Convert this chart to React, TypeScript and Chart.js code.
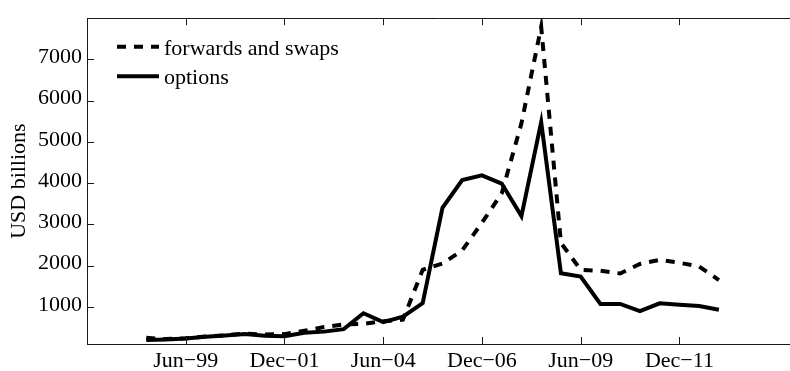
import React, { useEffect, useRef } from 'react';
import { Chart, registerables } from 'chart.js';

Chart.register(...registerables);

const periods = ['Jun-98', 'Dec-98', 'Jun-99', 'Dec-99', 'Jun-00', 'Dec-00', 'Jun-01', 'Dec-01', 'Jun-02', 'Dec-02',
  'Jun-03', 'Dec-03', 'Jun-04', 'Dec-04', 'Jun-05', 'Dec-05', 'Jun-06', 'Dec-06', 'Jun-07', 'Dec-07',
  'Jun-08', 'Dec-08', 'Jun-09', 'Dec-09', 'Jun-10', 'Dec-10', 'Jun-11', 'Dec-11', 'Jun-12', 'Dec-12'];
const forwardsAndSwaps = [250, 220, 240, 280, 310, 350, 330, 340, 420, 510, 575, 590, 650, 690, 1900, 2050, 2370, 3040, 3750, 5450,
  7790, 2550, 1900, 1875, 1810, 2040, 2140, 2070, 1980, 1650];
const optionsValues = [195, 212, 236, 274, 308, 340, 300, 290, 375, 400, 460, 845, 630, 765, 1090, 3400, 4075, 4190, 3990, 3200,
  5480, 1815, 1735, 1071, 1071, 895, 1086, 1050, 1022, 930];
const xTickPeriods = ['Jun-99', 'Dec-01', 'Jun-04', 'Dec-06', 'Jun-09', 'Dec-11'];
const xTickLabels = ['Jun\u221299', 'Dec\u221201', 'Jun\u221204', 'Dec\u221206', 'Jun\u221209', 'Dec\u221211'];
const yTickValues = [1000, 2000, 3000, 4000, 5000, 6000, 7000];
const seriesLabels = ['forwards and swaps', 'options'];

const FONT = '"Liberation Serif", "Times New Roman", serif';
const AXIS = '#1a1a1a';

const framePlugin = {
  id: 'matlabFrame',
  afterDraw(chart: any) {
    const { ctx, chartArea, scales } = chart;
    const { left, right, top, bottom } = chartArea;
    const xs = scales.x;
    const ys = scales.y;
    ctx.save();
    ctx.strokeStyle = AXIS;
    ctx.lineWidth = 1;
    ctx.setLineDash([]);
    ctx.beginPath();
    ctx.moveTo(left, Math.round(top) + 0.5);
    ctx.lineTo(right, Math.round(top) + 0.5);
    const tl = 7;
    xTickPeriods.forEach((p) => {
      const px = Math.round(xs.getPixelForValue(periods.indexOf(p))) + 0.5;
      ctx.moveTo(px, bottom);
      ctx.lineTo(px, bottom - tl);
      ctx.moveTo(px, top);
      ctx.lineTo(px, top + tl);
    });
    yTickValues.forEach((v) => {
      const py = Math.round(ys.getPixelForValue(v)) + 0.5;
      ctx.moveTo(left, py);
      ctx.lineTo(left + tl, py);
    });
    ctx.stroke();

    // legend (inside plot, no box)
    const rows = [46.7, 76.2];
    const baselines = [55, 83.5];
    chart.data.datasets.forEach((ds: any, i: number) => {
      ctx.beginPath();
      ctx.strokeStyle = ds.borderColor;
      ctx.lineWidth = ds.borderWidth;
      ctx.lineCap = 'butt';
      ctx.setLineDash(ds.borderDash || []);
      ctx.moveTo(117, rows[i]);
      ctx.lineTo(159, rows[i]);
      ctx.stroke();
      ctx.setLineDash([]);
      ctx.fillStyle = '#000';
      ctx.font = `22px ${FONT}`;
      ctx.textAlign = 'left';
      ctx.textBaseline = 'alphabetic';
      ctx.fillText(ds.label, 164, baselines[i]);
    });
    ctx.restore();
  },
};

export default function App() {
  const canvasRef = useRef<HTMLCanvasElement | null>(null);

  useEffect(() => {
    document.body.style.margin = '0';
    const canvas = canvasRef.current;
    if (!canvas) return;
    const toPoints = (arr: number[]) => arr.map((v, i) => ({ x: i, y: v }));
    const chart = new Chart(canvas, {
      type: 'line',
      data: {
        datasets: [
          {
            label: seriesLabels[0],
            data: toPoints(forwardsAndSwaps),
            borderColor: '#000',
            borderWidth: 4,
            borderDash: [9, 8],
            borderCapStyle: 'butt',
            borderJoinStyle: 'miter',
            pointRadius: 0,
            tension: 0,
            fill: false,
          },
          {
            label: seriesLabels[1],
            data: toPoints(optionsValues),
            borderColor: '#000',
            borderWidth: 4,
            borderCapStyle: 'butt',
            borderJoinStyle: 'miter',
            pointRadius: 0,
            tension: 0,
            fill: false,
          },
        ],
      },
      options: {
        responsive: false,
        animation: false,
        devicePixelRatio: 1,
        layout: { padding: { left: 0, right: 0, top: 13, bottom: 0 } },
        plugins: { legend: { display: false }, tooltip: { enabled: false } },
        scales: {
          x: {
            type: 'linear',
            min: -3,
            max: 32.6,
            grid: { display: false, drawTicks: false },
            border: { display: true, color: AXIS, width: 1 },
            afterBuildTicks: (scale: any) => {
              scale.ticks = xTickPeriods.map((p) => ({ value: periods.indexOf(p) }));
            },
            afterFit: (scale: any) => {
              scale.height = 27;
            },
            ticks: {
              autoSkip: false,
              maxRotation: 0,
              padding: 4,
              color: '#000',
              font: { family: FONT, size: 22 },
              callback: (value: any) => {
                const idx = xTickPeriods.findIndex((p) => periods.indexOf(p) === value);
                return idx >= 0 ? xTickLabels[idx] : '';
              },
            },
          },
          y: {
            type: 'linear',
            min: 100,
            max: 8000,
            grid: { display: false, drawTicks: false },
            border: { display: true, color: AXIS, width: 1 },
            afterBuildTicks: (scale: any) => {
              scale.ticks = yTickValues.map((v) => ({ value: v }));
            },
            afterFit: (scale: any) => {
              scale.width = 87;
            },
            ticks: {
              padding: 5,
              labelOffset: -2,
              color: '#000',
              font: { family: FONT, size: 22 },
              callback: (value: any) => String(value),
            },
            title: {
              display: true,
              text: 'USD billions',
              color: '#000',
              font: { family: FONT, size: 22 },
              padding: { top: 6, bottom: 0 },
            },
          },
        },
      },
      plugins: [framePlugin],
    } as any);
    return () => chart.destroy();
  }, []);

  return (
    <div style={{ width: 790, height: 371, background: '#fff' }}>
      <canvas ref={canvasRef} width={790} height={371} style={{ display: 'block', width: '790px', height: '371px' }} />
    </div>
  );
}
